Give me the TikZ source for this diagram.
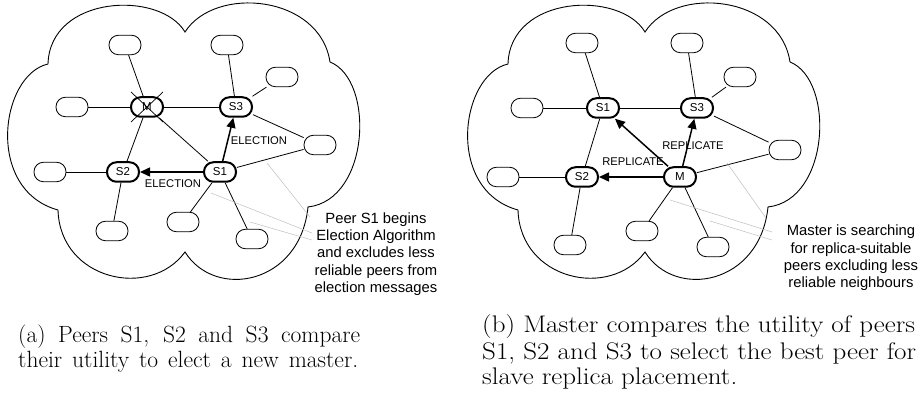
\documentclass[tikz,border=0pt]{standalone}
\usepackage{fontspec}
\newfontfamily\arial{Liberation Sans}
\usetikzlibrary{arrows.meta}
\tikzset{
  peer/.style={draw, line width=0.8pt, rounded corners=9.5pt, minimum width=32pt, minimum height=19.5pt, inner sep=0pt, font=\arial\fontsize{11.5}{12}\selectfont},
  keypeer/.style={peer, line width=2pt},
  link/.style={line width=0.8pt},
  msg/.style={line width=1.5pt, -{Triangle[length=10pt,width=9pt]}},
  lbl/.style={font=\arial\fontsize{11.2}{12}\selectfont, inner sep=0pt},
  note/.style={font=\arial\fontsize{14.8}{17.3}\selectfont, align=center, inner sep=0pt},
  pointer/.style={black!25, line width=0.5pt},
  cloudline/.style={line width=0.9pt},
  captexta/.style={font=\fontsize{23.5}{26}\selectfont, inner sep=0pt, anchor=west},
  captextb/.style={font=\fontsize{24}{26}\selectfont, inner sep=0pt, anchor=west, xscale=1.125},
  netcloud/.pic={
    \draw[cloudline] (185,32) .. controls (160,-10) and (50,-5) .. (48,64)
      .. controls (0,75) and (-15,190) .. (58,210)
      .. controls (60,280) and (150,300) .. (185,252)
      .. controls (215,300) and (300,285) .. (308,207)
      .. controls (370,200) and (375,80) .. (330,62)
      .. controls (320,-5) and (215,-15) .. (185,32) -- cycle;
  }
}
\begin{document}
\begin{tikzpicture}[x=1pt,y=-1pt]
\useasboundingbox (0,0) rectangle (922,411);
\fill[white] (0,0) rectangle (922,411);

% ---------------- (a) ----------------
\pic at (0,0) {netcloud};
\node[peer] (a1) at (125,45) {};
\node[peer] (a2) at (227,45) {};
\node[peer] (a3) at (282,77) {};
\node[peer] (a4) at (72,107) {};
\node[keypeer] (aM) at (147,107) {M};
\node[keypeer] (aS3) at (236,107) {S3};
\node[peer] (a5) at (320,145) {};
\node[peer] (a6) at (50,172) {};
\node[keypeer] (aS2) at (123,172) {S2};
\node[keypeer] (aS1) at (220,172) {S1};
\node[peer] (a7) at (112,231) {};
\node[peer] (a8) at (183,222) {};
\node[peer] (a9) at (252,239) {};

\draw[line width=0.7pt] ([shift={(-16,-15)}]aM.center) -- ([shift={(16,15)}]aM.center);
\draw[line width=0.7pt] ([shift={(-16,15)}]aM.center) -- ([shift={(16,-15)}]aM.center);

\draw[link] (a1) -- (aM);
\draw[link] (a4) -- (aM);
\draw[link] (aM) -- (aS3);
\draw[link] (aM) -- (aS2);
\draw[link] (aM) -- (aS1);
\draw[link] (a2) -- (aS3);
\draw[link] (aS3) -- (a3);
\draw[link] (aS3) -- (a5);
\draw[link] (aS1) -- (a5);
\draw[link] (aS2) -- (a6);
\draw[link] (aS2) -- (a7);
\draw[link] (aS1) -- (a8);
\draw[link] (aS1) -- (a9);
\draw[msg] (aS1) -- (aS3);
\draw[msg] (aS1) -- (aS2);

\node[lbl] (aL1) at (259,141) {ELECTION};
\node[lbl] (aL2) at (173,184) {ELECTION};

\node[note] (aN) at (376,254) {Peer S1 begins\\Election Algorithm\\and excludes less\\reliable peers from\\election messages};
\coordinate (ap1) at (267,163);
\coordinate (ap2) at (211,193);
\coordinate (ap3) at (250,222);
\coordinate (aq1) at (310,217);
\coordinate (aq2) at (312,233);
\coordinate (aq3) at (312,240);
\draw[pointer] (aq1) -- (ap1);
\draw[pointer] (aq2) -- (ap2);
\draw[pointer] (aq3) -- (ap3);

% ---------------- (b) ----------------
\pic at (460,0) {netcloud};
\node[peer] (b1) at (582,43) {};
\node[peer] (b2) at (687,43) {};
\node[peer] (b3) at (740,77) {};
\node[peer] (b4) at (527,108) {};
\node[keypeer] (bS1) at (603,108) {S1};
\node[keypeer] (bS3) at (697,108) {S3};
\node[peer] (b5) at (785,150) {};
\node[peer] (b6) at (503,177) {};
\node[keypeer] (bS2) at (582,177) {S2};
\node[keypeer] (bM) at (680,177) {M};
\node[peer] (b7) at (570,245) {};
\node[peer] (b8) at (642,231) {};
\node[peer] (b9) at (713,247) {};

\draw[link] (b1) -- (bS1);
\draw[link] (b4) -- (bS1);
\draw[link] (bS3) -- (bS1);
\draw[link] (bS1) -- (bS2);
\draw[link] (b2) -- (bS3);
\draw[link] (bS3) -- (b3);
\draw[link] (bS3) -- (b5);
\draw[link] (bM) -- (b5);
\draw[link] (bS2) -- (b6);
\draw[link] (bS2) -- (b7);
\draw[link] (bM) -- (b8);
\draw[link] (bM) -- (b9);
\draw[msg] (bM) -- (bS1);
\draw[msg] (bM) -- (bS3);
\draw[msg] (bM) -- (bS2);

\node[lbl] (bL1) at (693,146) {REPLICATE};
\node[lbl] (bL2) at (633,162) {REPLICATE};

\node[note] (bN) at (851,258) {Master is searching\\for replica-suitable\\peers excluding less\\reliable neighbours};
\coordinate (bp1) at (727,163);
\coordinate (bp2) at (670,200);
\coordinate (bp3) at (710,221);
\coordinate (bq1) at (766,218);
\coordinate (bq2) at (772,232);
\coordinate (bq3) at (772,240);
\draw[pointer] (bq1) -- (bp1);
\draw[pointer] (bq2) -- (bp2);
\draw[pointer] (bq3) -- (bp3);

% ---------------- captions ----------------
\node[captexta] (ca1) at (18,337) {\makebox[342pt][s]{(a) Peers S1, S2 and S3 compare}};
\node[captexta] (ca2) at (18,362) {\makebox[340pt][s]{their utility to elect a new master.}};
\node[captextb] (cb1) at (482,327) {(b) Master compares the utility of peers};
\node[captextb] (cb2) at (482,353) {S1, S2 and S3 to select the best peer for};
\node[captextb] (cb3) at (482,379) {slave replica placement.};
\end{tikzpicture}
\end{document}
